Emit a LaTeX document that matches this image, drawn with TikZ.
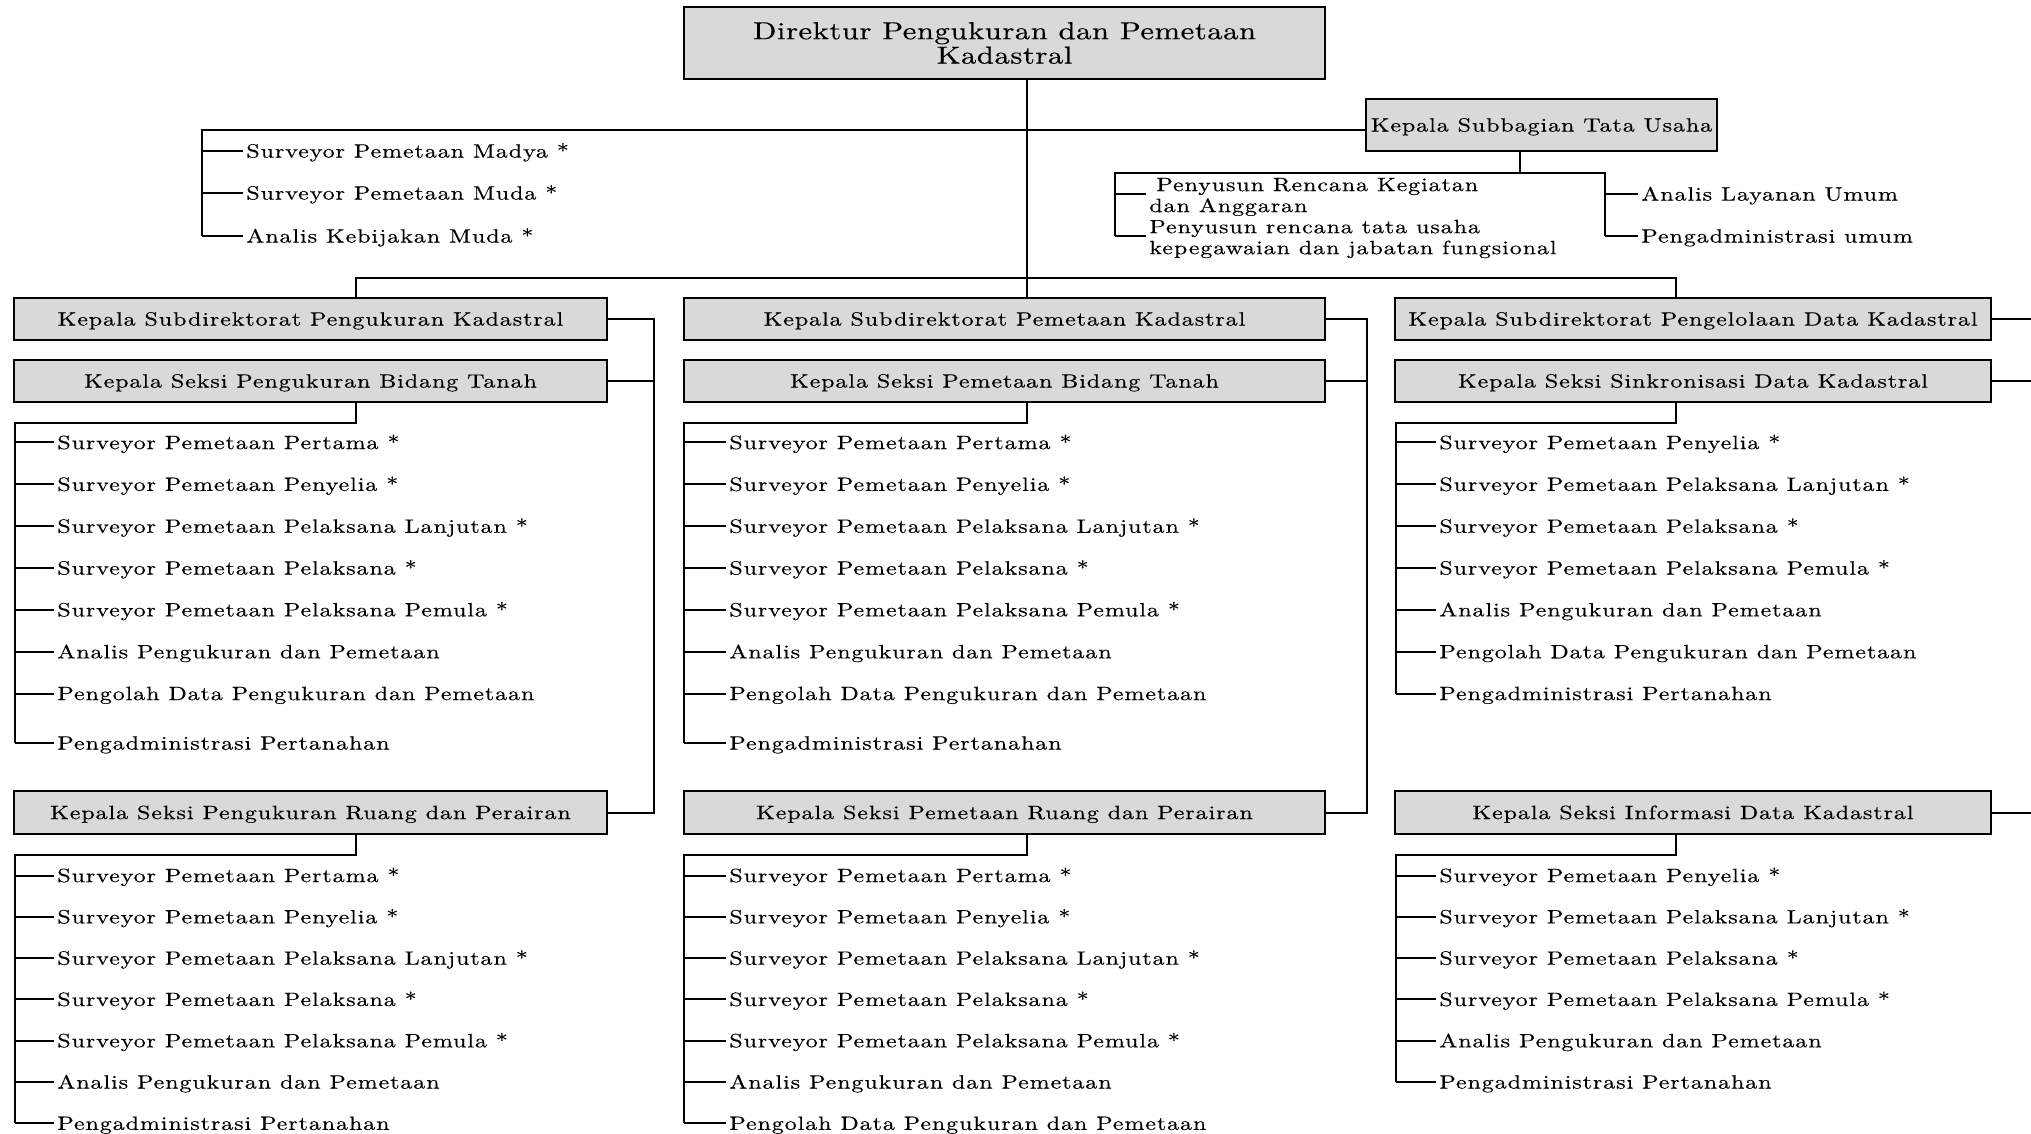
\documentclass[tikz,border=0pt]{standalone}
\usepackage{fontspec}
\setmainfont{lmroman10-regular.otf}[FakeStretch=1.25,LetterSpace=4.8,FakeBold=0.4]
\usetikzlibrary{calc}
\definecolor{boxgray}{HTML}{D9D9D9}
\newcommand\itemfont{\fontsize{9.6pt}{10.5pt}\selectfont}
\newcommand\dirfont{\fontsize{12.3pt}{12.2pt}\selectfont\addfontfeatures{LetterSpace=2}}
\newcommand\mkitems[4]{%
  \foreach \yy/\txt [count=\i] in {#4} {%
    \node[item] (#1-\i) at (#2,\yy) {\txt};
    \draw[ln] (#3 |- #1-\i.west) -- (#1-\i.west);
  }}
\tikzset{
  ln/.style={line width=1pt},
  box/.style={draw, line width=1.3pt, fill=boxgray, inner sep=0pt,
    text height=6.56pt, text depth=0pt, font=\itemfont},
  item/.style={anchor=west, inner xsep=1.5pt, inner ysep=0pt,
    text height=6.56pt, text depth=0pt, font=\itemfont},
  item2/.style={anchor=west, inner xsep=1.5pt, inner ysep=0pt,
    align=left, font=\itemfont},
}
\begin{document}
\begin{tikzpicture}[x=0.5pt,y=-0.5pt]
\useasboundingbox (0,0) rectangle (2031,1134);

% ---------- boxes ----------
\node[draw, line width=1.3pt, fill=boxgray, inner sep=0pt, align=center,
  font=\dirfont, minimum width=320.5pt, minimum height=36pt]
  (dir) at (1004.5,43) {Direktur Pengukuran dan Pemetaan\\Kadastral};
\node[box, minimum width=175.5pt, minimum height=26pt] (kst) at (1541.5,125)
  {Kepala Subbagian Tata Usaha};

\node[box, minimum width=296.5pt, minimum height=21pt] (sdA) at (310.5,319)
  {Kepala Subdirektorat Pengukuran Kadastral};
\node[box, minimum width=296.5pt, minimum height=21pt] (skA1) at (310.5,381)
  {Kepala Seksi Pengukuran Bidang Tanah};
\node[box, minimum width=296.5pt, minimum height=21.5pt] (skA2) at (310.5,812.5)
  {Kepala Seksi Pengukuran Ruang dan Perairan};

\node[box, minimum width=320.5pt, minimum height=21pt] (sdB) at (1004.5,319)
  {Kepala Subdirektorat Pemetaan Kadastral};
\node[box, minimum width=320.5pt, minimum height=21pt] (skB1) at (1004.5,381)
  {Kepala Seksi Pemetaan Bidang Tanah};
\node[box, minimum width=320.5pt, minimum height=21.5pt] (skB2) at (1004.5,812.5)
  {Kepala Seksi Pemetaan Ruang dan Perairan};

\node[box, minimum width=298pt, minimum height=21pt] (sdC) at (1693,319)
  {Kepala Subdirektorat Pengelolaan Data Kadastral};
\node[box, minimum width=298pt, minimum height=21pt] (skC1) at (1693,381)
  {Kepala Seksi Sinkronisasi Data Kadastral};
\node[box, minimum width=298pt, minimum height=21.5pt] (skC2) at (1693,812.5)
  {Kepala Seksi Informasi Data Kadastral};

% ---------- helper coordinates ----------
\coordinate (xA) at (356,0);
\coordinate (xB) at (1027,0);
\coordinate (xC) at (1676,0);
\coordinate (kA) at (15,0);
\coordinate (kB) at (684,0);
\coordinate (kC) at (1396,0);
\coordinate (vA) at (654,0);
\coordinate (vB) at (1367,0);
\coordinate (edge) at (2031,0);
\coordinate (bus) at (0,277.7);
\coordinate (y1) at (0,422.7);
\coordinate (y2) at (0,854.7);
\coordinate (st) at (201.5,130);
\coordinate (tu) at (1520,172.7);
\coordinate (tuL) at (1115,172.7);
\coordinate (tuR) at (1605,172.7);

% ---------- top part ----------
\draw[ln] (xB |- dir.south) -- (xB |- sdB.north);
\draw[ln] (xA |- sdA.north) -- (xA |- bus) -- (xC |- bus) -- (xC |- sdC.north);

% staff of the director
\mkitems{s}{243}{st}{151/Surveyor Pemetaan Madya *,
  193/Surveyor Pemetaan Muda *,
  236/Analis Kebijakan Muda *}
\draw[ln] (kst.west |- st) -- (st) -- (st |- s-3.west);

% subbagian tata usaha
\node[item2] (p1) at (1146,197)
  {\hspace{3.5pt}Penyusun Rencana Kegiatan\\dan Anggaran};
\node[item2] (p2) at (1146,239)
  {Penyusun rencana tata usaha\\kepegawaian dan jabatan fungsional};
\coordinate (p1t) at ([yshift=1.5pt]p1.west);
\coordinate (p2t) at ([yshift=1.5pt]p2.west);
\node[item] (r1) at (1638,194) {Analis Layanan Umum};
\node[item] (r2) at (1638,236) {Pengadministrasi umum};
\draw[ln] (kst.south -| tu) -- (tu);
\draw[ln] (tuL |- p2t) -- (tuL) -- (tuR) -- (tuR |- r2.west);
\draw[ln] (tuL |- p1t) -- (p1t);
\draw[ln] (tuL |- p2t) -- (p2t);
\draw[ln] (tuR |- r1.west) -- (r1.west);
\draw[ln] (tuR |- r2.west) -- (r2.west);

% ---------- side connectors ----------
\draw[ln] (sdA.east) -- (sdA.east -| vA) -- (skA2.east -| vA) -- (skA2.east);
\draw[ln] (skA1.east) -- (skA1.east -| vA);
\draw[ln] (sdB.east) -- (sdB.east -| vB) -- (skB2.east -| vB) -- (skB2.east);
\draw[ln] (skB1.east) -- (skB1.east -| vB);
\draw[ln] (sdC.east) -- (sdC.east -| edge);
\draw[ln] (skC1.east) -- (skC1.east -| edge);
\draw[ln] (skC2.east) -- (skC2.east -| edge);

% ---------- column A ----------
\mkitems{a1}{54}{kA}{442.5/Surveyor Pemetaan Pertama *,
  484.3/Surveyor Pemetaan Penyelia *,
  526.2/Surveyor Pemetaan Pelaksana Lanjutan *,
  568/Surveyor Pemetaan Pelaksana *,
  609.8/Surveyor Pemetaan Pelaksana Pemula *,
  651.7/Analis Pengukuran dan Pemetaan,
  693.5/Pengolah Data Pengukuran dan Pemetaan,
  743/Pengadministrasi Pertanahan}
\draw[ln] (skA1.south -| xA) -- (xA |- y1) -- (kA |- y1) -- (kA |- a1-8.west);

\mkitems{a2}{54}{kA}{875.5/Surveyor Pemetaan Pertama *,
  916.8/Surveyor Pemetaan Penyelia *,
  958.1/Surveyor Pemetaan Pelaksana Lanjutan *,
  999.4/Surveyor Pemetaan Pelaksana *,
  1040.7/Surveyor Pemetaan Pelaksana Pemula *,
  1082/Analis Pengukuran dan Pemetaan,
  1123.3/Pengadministrasi Pertanahan}
\draw[ln] (skA2.south -| xA) -- (xA |- y2) -- (kA |- y2) -- (kA |- a2-7.west);

% ---------- column B ----------
\mkitems{b1}{726}{kB}{442.5/Surveyor Pemetaan Pertama *,
  484.3/Surveyor Pemetaan Penyelia *,
  526.2/Surveyor Pemetaan Pelaksana Lanjutan *,
  568/Surveyor Pemetaan Pelaksana *,
  609.8/Surveyor Pemetaan Pelaksana Pemula *,
  651.7/Analis Pengukuran dan Pemetaan,
  693.5/Pengolah Data Pengukuran dan Pemetaan,
  743/Pengadministrasi Pertanahan}
\draw[ln] (skB1.south -| xB) -- (xB |- y1) -- (kB |- y1) -- (kB |- b1-8.west);

\mkitems{b2}{726}{kB}{875.5/Surveyor Pemetaan Pertama *,
  916.8/Surveyor Pemetaan Penyelia *,
  958.1/Surveyor Pemetaan Pelaksana Lanjutan *,
  999.4/Surveyor Pemetaan Pelaksana *,
  1040.7/Surveyor Pemetaan Pelaksana Pemula *,
  1082/Analis Pengukuran dan Pemetaan,
  1123.3/Pengolah Data Pengukuran dan Pemetaan}
\draw[ln] (skB2.south -| xB) -- (xB |- y2) -- (kB |- y2) -- (kB |- b2-7.west);

% ---------- column C ----------
\mkitems{c1}{1436}{kC}{442.5/Surveyor Pemetaan Penyelia *,
  484.3/Surveyor Pemetaan Pelaksana Lanjutan *,
  526.2/Surveyor Pemetaan Pelaksana *,
  568/Surveyor Pemetaan Pelaksana Pemula *,
  609.8/Analis Pengukuran dan Pemetaan,
  651.7/Pengolah Data Pengukuran dan Pemetaan,
  693.5/Pengadministrasi Pertanahan}
\draw[ln] (skC1.south -| xC) -- (xC |- y1) -- (kC |- y1) -- (kC |- c1-7.west);

\mkitems{c2}{1436}{kC}{875.5/Surveyor Pemetaan Penyelia *,
  916.8/Surveyor Pemetaan Pelaksana Lanjutan *,
  958.1/Surveyor Pemetaan Pelaksana *,
  999.4/Surveyor Pemetaan Pelaksana Pemula *,
  1040.7/Analis Pengukuran dan Pemetaan,
  1082/Pengadministrasi Pertanahan}
\draw[ln] (skC2.south -| xC) -- (xC |- y2) -- (kC |- y2) -- (kC |- c2-6.west);
\end{tikzpicture}
\end{document}
